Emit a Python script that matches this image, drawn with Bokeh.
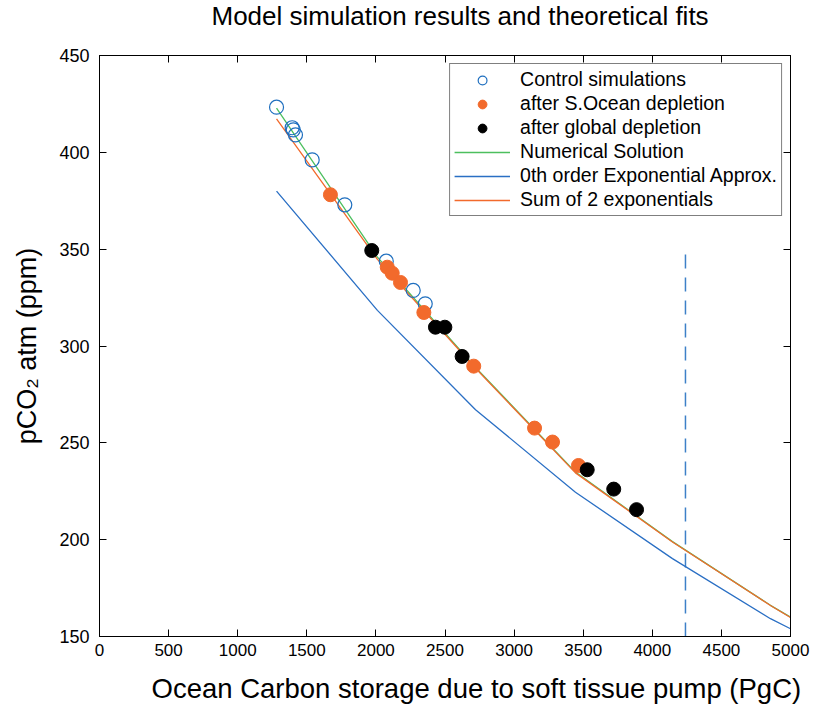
from bokeh.plotting import figure
from bokeh.models import Range1d, FixedTicker, LinearAxis, Legend, LegendItem, Title
from bokeh.embed import file_html
from bokeh.resources import INLINE

# ---- data ----
control_x = [1281, 1394, 1402, 1418, 1539, 1775, 2075, 2270, 2357]
control_y = [423.3, 412.7, 411.6, 409.0, 396.1, 372.9, 343.8, 328.7, 321.8]

socean_x = [1671, 2082, 2118, 2178, 2347, 2708, 3148, 3278, 3466]
socean_y = [378.1, 340.7, 337.6, 332.8, 317.3, 289.6, 257.6, 250.4, 238.3]

global_x = [1970, 2431, 2499, 2624, 3529, 3721, 3886]
global_y = [349.3, 309.7, 309.7, 294.6, 236.1, 226.1, 215.5]

curve_x = [1281, 2011, 2721, 3444, 4146, 4855, 5000]
numerical_y = [422.8, 345.9, 288.9, 234.9, 199.0, 166.1, 160.0]
exp0_y = [380.0, 318.4, 267.1, 224.5, 190.2, 159.2, 154.0]
sum2_y = [417.3, 344.7, 288.5, 234.5, 198.8, 166.0, 159.8]

limit_x = [4240, 4240]
limit_y = [150, 350]

x_ticks = [0, 500, 1000, 1500, 2000, 2500, 3000, 3500, 4000, 4500, 5000]
y_ticks = [150, 200, 250, 300, 350, 400, 450]

BLUE = "#1f6fbf"
ORANGE = "#f26a2c"
GREEN = "#4cbf5e"
LINEBLUE = "#2a6fc4"
FONT = "Liberation Sans"

p = figure(width=814, height=712, x_range=Range1d(0, 5000), y_range=Range1d(150, 450),
           output_backend="svg", toolbar_location=None,
           min_border_left=99, min_border_right=24, min_border_top=55, min_border_bottom=76)

p.title.text = "Model simulation results and theoretical fits"
p.title.text_font = FONT
p.title.text_font_size = "26px"
p.title.text_font_style = "normal"
p.title.align = "left"
p.title.offset = 112
p.title.standoff = 0
p.title.vertical_align = "top"
p.title.text_color = "black"

p.xgrid.visible = False
p.ygrid.visible = False
p.outline_line_color = "black"
p.outline_line_width = 1

for ax in (p.xaxis[0], p.yaxis[0]):
    ax.major_tick_in = 7
    ax.major_tick_out = 0
    ax.minor_tick_line_color = None
    ax.axis_line_color = "black"
    ax.major_tick_line_color = "black"
    ax.major_label_text_color = "black"
    ax.major_label_text_font = FONT
    ax.axis_label_text_font = FONT
    ax.axis_label_text_font_style = "normal"
    ax.axis_label_text_color = "black"
    ax.axis_label_text_font_size = "27px"

p.xaxis[0].ticker = FixedTicker(ticks=x_ticks)
p.yaxis[0].ticker = FixedTicker(ticks=y_ticks)
p.xaxis[0].major_label_text_font_size = "17px"
p.yaxis[0].major_label_text_font_size = "18px"
p.xaxis[0].major_label_standoff = 7
p.yaxis[0].major_label_standoff = 10
p.yaxis[0].axis_label = "pCO\u2082 atm (ppm)"
p.yaxis[0].axis_label_standoff = 14


def spacer(px):
    # invisible axis used only to reserve vertical space
    return LinearAxis(ticker=FixedTicker(ticks=[x_ticks[5]]), major_tick_in=0, major_tick_out=px,
                      minor_tick_line_color=None, major_tick_line_color=None,
                      major_label_text_color=None, axis_line_color=None)


top_ax = LinearAxis(ticker=FixedTicker(ticks=x_ticks), major_tick_in=7, major_tick_out=0,
                    minor_tick_line_color=None, major_label_text_color=None,
                    axis_line_color="black")
right_ax = LinearAxis(ticker=FixedTicker(ticks=y_ticks), major_tick_in=7, major_tick_out=0,
                      minor_tick_line_color=None, major_label_text_color=None,
                      axis_line_color="black")
p.add_layout(top_ax, "above")
p.add_layout(spacer(23), "above")
p.add_layout(right_ax, "right")

p.add_layout(spacer(11), "below")
xlabel = Title(text="Ocean Carbon storage due to soft tissue pump (PgC)", align="left",
               offset=52, standoff=2, text_font=FONT, text_font_size="27.5px",
               text_font_style="normal", text_color="black")
p.add_layout(xlabel, "below")

# dashed vertical line
p.line(limit_x, limit_y, line_color="#3d80c8", line_width=1.5, line_dash="14 9")

r_num = p.line(curve_x, numerical_y, line_color=GREEN, line_width=1.3)
r_exp = p.line(curve_x, exp0_y, line_color=LINEBLUE, line_width=1.3)
r_sum = p.line(curve_x, sum2_y, line_color=ORANGE, line_width=1.3)

r_ctrl = p.scatter(control_x, control_y, marker="circle", size=14, fill_color=None,
                   line_color=BLUE, line_width=1.2)
r_so = p.scatter(socean_x, socean_y, marker="circle", size=14, fill_color=ORANGE,
                 line_color=ORANGE)
r_gl = p.scatter(global_x, global_y, marker="circle", size=14, fill_color="black",
                 line_color="black")

legend = Legend(items=[
    LegendItem(label="Control simulations", renderers=[r_ctrl]),
    LegendItem(label="after S.Ocean depletion", renderers=[r_so]),
    LegendItem(label="after global depletion", renderers=[r_gl]),
    LegendItem(label="Numerical Solution", renderers=[r_num]),
    LegendItem(label="0th order Exponential Approx.", renderers=[r_exp]),
    LegendItem(label="Sum of 2 exponentials", renderers=[r_sum]),
], location="top_right")
legend.label_text_font = FONT
legend.label_text_font_size = "19.5px"
legend.label_text_color = "black"
legend.glyph_width = 56
legend.glyph_height = 22
legend.label_height = 22
legend.spacing = 1
legend.padding = 4
legend.margin = 8
legend.label_standoff = 10
legend.border_line_color = "black"
legend.border_line_width = 1.2
legend.background_fill_alpha = 1.0
p.add_layout(legend, "center")

open("out.html", "w").write(file_html(p, INLINE))
